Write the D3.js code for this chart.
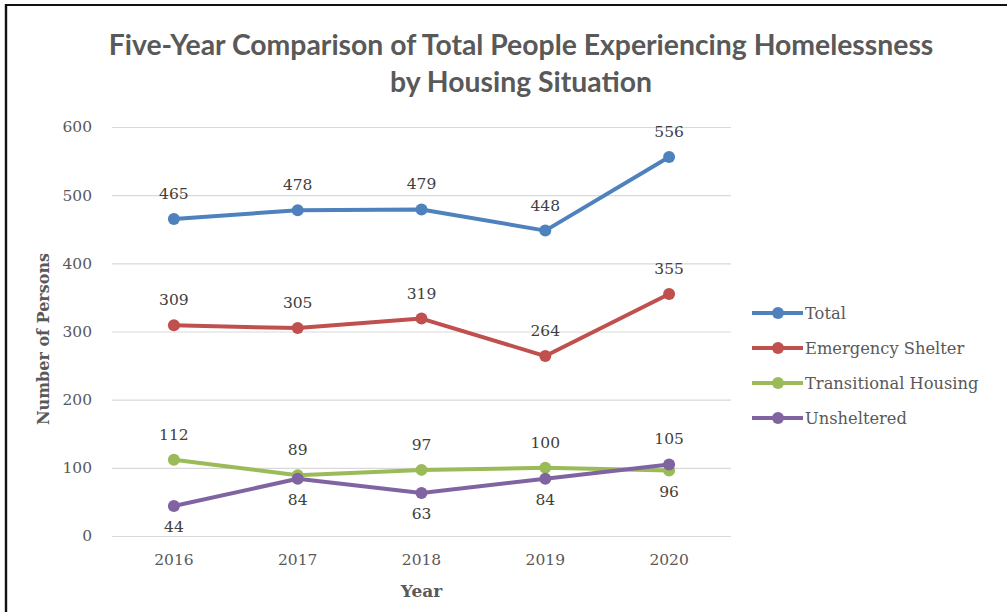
<!DOCTYPE html>
<html>
<head>
<meta charset="utf-8">
<script src="https://cdn.jsdelivr.net/npm/d3@7"></script>
<style>
  html, body { margin: 0; padding: 0; background: #fff; }
  svg { display: block; }
</style>
</head>
<body>
<svg id="chart" width="1007" height="612"></svg>
<script>
// Point-in-time counts by housing situation
const years = ["2016", "2017", "2018", "2019", "2020"];
const total = [465, 478, 479, 448, 556];
const emergencyShelter = [309, 305, 319, 264, 355];
const transitionalHousing = [112, 89, 97, 100, 96];
const unsheltered = [44, 84, 63, 84, 105];
const yTicks = [0, 100, 200, 300, 400, 500, 600];
const seriesNames = ["Total", "Emergency Shelter", "Transitional Housing", "Unsheltered"];
// label placement per point: "above" or "below"
const labelPos = [
  ["above", "above", "above", "above", "above"],
  ["above", "above", "above", "above", "above"],
  ["above", "above", "above", "above", "below"],
  ["below", "below", "below", "below", "above"]
];

const series = [total, emergencyShelter, transitionalHousing, unsheltered];
const colors = ["#4F81BD", "#C0504D", "#9BBB59", "#8064A2"];

const svg = d3.select("#chart");
const W = 1007, H = 612;

// Frame (left and top edges)
svg.append("line").attr("x1", 6).attr("x2", W).attr("y1", 5).attr("y2", 5)
  .attr("stroke", "#111").attr("stroke-width", 2.2);
svg.append("line").attr("x1", 6).attr("x2", 6).attr("y1", 4).attr("y2", H)
  .attr("stroke", "#111").attr("stroke-width", 2.4);

const plot = { left: 112, right: 731, top: 127, bottom: 536 };

const x = d3.scaleBand().domain(years).range([plot.left, plot.right]).padding(0);
const y = d3.scaleLinear().domain([0, 600]).range([plot.bottom, plot.top]);
const cx = d => x(d) + x.bandwidth() / 2;

const serif = "'DejaVu Serif', 'Liberation Serif', serif";
const textGray = "#595959";

// Title
const titleFont = "Lato, 'Open Sans', sans-serif";
const titleLines = ["Five-Year Comparison of Total People Experiencing Homelessness", "by Housing Situation"];
const t1 = svg.append("text").attr("x", 521).attr("y", 55)
  .attr("text-anchor", "middle").attr("font-family", titleFont).attr("font-weight", 700)
  .attr("font-size", 24).attr("fill", textGray).text(titleLines[0]);
const len = t1.node().getComputedTextLength();
const titleSize = 24 * 825 / len;
t1.attr("font-size", titleSize);
svg.append("text").attr("x", 521).attr("y", 92)
  .attr("text-anchor", "middle").attr("font-family", titleFont).attr("font-weight", 700)
  .attr("font-size", titleSize).attr("fill", textGray).text(titleLines[1]);

// Gridlines
const yAxis = d3.axisLeft(y).tickValues(yTicks).tickSize(-(plot.right - plot.left)).tickPadding(20);
const gy = svg.append("g").attr("transform", `translate(${plot.left},0)`).call(yAxis);
gy.select(".domain").remove();
gy.selectAll(".tick line").attr("stroke", "#d9d9d9").attr("stroke-width", 1.2);
gy.selectAll(".tick text").attr("font-family", serif).attr("font-size", 15.5)
  .attr("fill", textGray);

// X axis labels
const xAxis = d3.axisBottom(x).tickSize(0).tickPadding(18);
const gx = svg.append("g").attr("transform", `translate(0,${plot.bottom})`).call(xAxis);
gx.select(".domain").remove();
gx.selectAll(".tick text").attr("font-family", serif).attr("font-size", 15.5)
  .attr("fill", textGray);

// Axis titles
svg.append("text").attr("x", cx("2018")).attr("y", 597)
  .attr("text-anchor", "middle").attr("font-family", serif).attr("font-weight", 700)
  .attr("font-size", 17).attr("fill", textGray).text("Year");
svg.append("text").attr("transform", `translate(49,339) rotate(-90)`)
  .attr("text-anchor", "middle").attr("font-family", serif).attr("font-weight", 700)
  .attr("font-size", 16).attr("fill", textGray).text("Number of Persons");

// Lines and markers
const line = d3.line().x((d, i) => cx(years[i])).y(d => y(d));
series.forEach((vals, si) => {
  svg.append("path").datum(vals).attr("d", line)
    .attr("fill", "none").attr("stroke", colors[si]).attr("stroke-width", 4)
    .attr("stroke-linejoin", "round").attr("stroke-linecap", "round");
  svg.append("g").selectAll("circle").data(vals).join("circle")
    .attr("cx", (d, i) => cx(years[i])).attr("cy", d => y(d)).attr("r", 6)
    .attr("fill", colors[si]);
});

// Data labels
series.forEach((vals, si) => {
  svg.append("g").selectAll("text").data(vals).join("text")
    .attr("x", (d, i) => cx(years[i]))
    .attr("y", (d, i) => labelPos[si][i] === "above" ? y(d) - 20 : y(d) + 26)
    .attr("text-anchor", "middle").attr("font-family", serif).attr("font-size", 15.5)
    .attr("fill", "#404040").text(d => d);
});

// Legend
const legend = svg.append("g");
seriesNames.forEach((name, i) => {
  const ly = 313 + i * 35;
  legend.append("line").attr("x1", 752).attr("x2", 803).attr("y1", ly).attr("y2", ly)
    .attr("stroke", colors[i]).attr("stroke-width", 4);
  legend.append("circle").attr("cx", 778).attr("cy", ly).attr("r", 6).attr("fill", colors[i]);
  legend.append("text").attr("x", 805).attr("y", ly + 6)
    .attr("font-family", serif).attr("font-size", 16.3).attr("fill", textGray).text(name);
});
</script>
</body>
</html>
